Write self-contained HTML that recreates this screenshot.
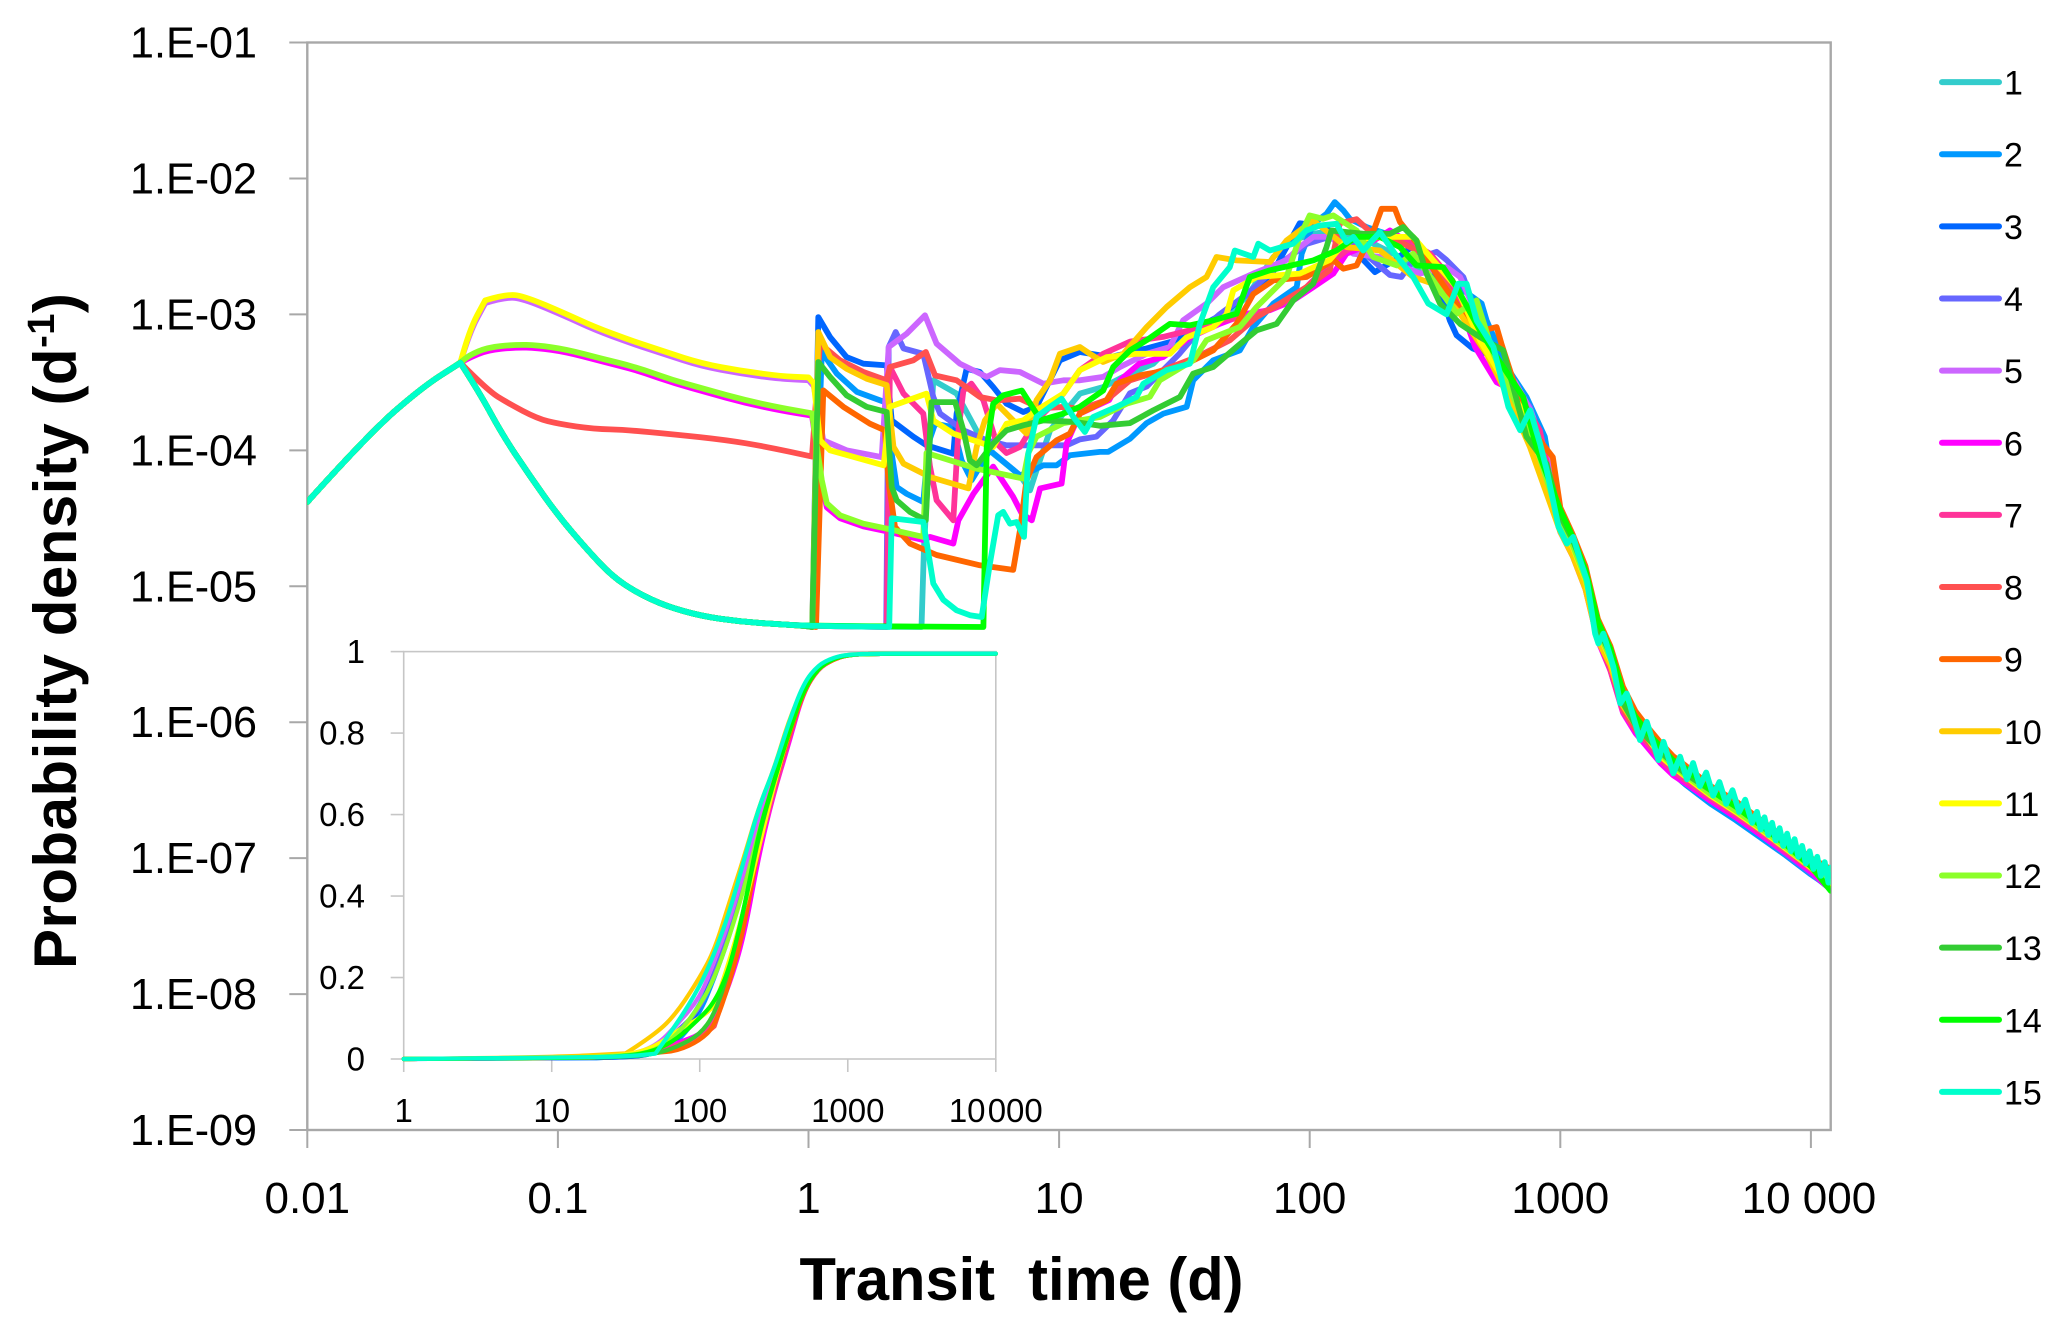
<!DOCTYPE html>
<html lang="en">
<head>
<meta charset="utf-8">
<title>Probability density of transit time</title>
<style>
html,body{margin:0;padding:0;background:#fff;}
svg{display:block;}
text{font-family:"Liberation Sans",sans-serif;fill:#000;}
</style>
</head>
<body>
<svg id="chart" xmlns="http://www.w3.org/2000/svg" width="2068" height="1337" viewBox="0 0 2068 1337">
  <defs><clipPath id="plot-clip"><rect x="307.3" y="42.5" width="1523.4" height="1087.5"/></clipPath></defs>
  <rect x="0" y="0" width="2068" height="1337" fill="#fff"/>
  <g id="main-axes"></g>
  <g id="main-series" clip-path="url(#plot-clip)"></g>
  <g id="inset-axes"></g>
  <g id="inset-series"></g>
  <g id="legend"></g>
  <text x="799.5" y="1300" font-size="60" font-weight="700" textLength="444" lengthAdjust="spacingAndGlyphs" style="white-space:pre">Transit  time (d)</text>
  <text transform="translate(76 969) rotate(-90)" x="0" y="0" font-size="60" font-weight="700" letter-spacing="0.5">Probability density (d<tspan font-size="38" dy="-22">-1</tspan><tspan dy="22">)</tspan></text>
</svg>
<script>
// Main chart values are log10(transit time, d) and log10(probability density, 1/d).
const xTickValues = [-2,-1,0,1,2,3,4];
const xTickLabels = ["0.01","0.1","1","10","100","1000","10 000"];
const yTickValues = [-1,-2,-3,-4,-5,-6,-7,-8,-9];
const yTickLabels = ["1.E-01","1.E-02","1.E-03","1.E-04","1.E-05","1.E-06","1.E-07","1.E-08","1.E-09"];
const legendLabels = ["1","2","3","4","5","6","7","8","9","10","11","12","13","14","15"];
const seriesColors = ["#33CCCC","#0099FF","#0066FF","#6666FF","#CC66FF","#FF00FF","#FF3399","#FF5050","#FF6600","#FFCC00","#FFFF00","#8CFF2A","#33CC33","#00FF00","#00FFCC"];

const riseT = [-2,-1.753,-1.539,-1.389];
const riseP = [-4.38,-3.875,-3.533,-3.356];
const lowT = [-1.311,-1.225,-1.111,-0.997,-0.883,-0.784,-0.684,-0.57,-0.427,-0.271,-0.114,-0.02];
const lowP = [-3.581,-3.875,-4.192,-4.486,-4.731,-4.926,-5.048,-5.146,-5.22,-5.261,-5.28,-5.29];
const tailT = [3,3.05,3.1,3.15,3.2,3.25,3.3,3.35,3.4,3.45,3.5,3.6,3.7,3.8,3.9,4,4.079];

const s1T = [0.451,0.461,0.498,0.591,0.684,0.737,0.844,0.884,0.91,0.964,1.017,1.083,1.176,1.256,1.376,1.455,1.549,1.655,1.748,1.855,1.934,2.014,2.094,2.227,2.36,2.48,2.586,2.679,2.759,2.84,2.932];
const s1P = [-5.3,-4.71,-3.485,-3.583,-3.9,-4.024,-4.184,-4.294,-4.147,-3.853,-3.73,-3.583,-3.534,-3.46,-3.363,-3.216,-3.118,-3.02,-2.873,-2.578,-2.456,-2.407,-2.383,-2.456,-2.578,-2.7,-2.873,-3.167,-3.41,-3.68,-4.05];
const s1Tail = [-4.52,-4.7,-4.94,-5.33,-5.55,-5.84,-6,-6.12,-6.24,-6.33,-6.4,-6.54,-6.65,-6.78,-6.92,-7.06,-7.2];

const s2T = [0.015,0.053,0.113,0.193,0.305,0.332,0.352,0.392,0.458,0.478,0.505,0.578,0.611,0.651,0.724,0.844,0.897,0.937,0.99,1.043,1.163,1.196,1.283,1.349,1.416,1.509,1.535,1.615,1.721,1.775,1.855,1.948,1.968,2.014,2.067,2.1,2.134,2.16,2.227,2.347,2.413,2.48,2.546,2.613,2.686,2.706,2.786,2.865,2.938];
const s2P = [-5.3,-3.277,-3.436,-3.57,-3.645,-4.024,-4.27,-4.32,-4.38,-3.95,-3.804,-3.83,-4.074,-4.22,-4,-4.184,-4.147,-4.11,-4.11,-4.037,-4.012,-4.012,-3.915,-3.8,-3.73,-3.68,-3.485,-3.338,-3.265,-3.093,-2.92,-2.8,-2.554,-2.334,-2.26,-2.174,-2.235,-2.297,-2.358,-2.432,-2.432,-2.578,-2.75,-2.824,-2.92,-3.044,-3.387,-3.608,-3.9];
const s2Tail = [-4.58,-4.75,-5,-5.38,-5.6,-5.9,-6.05,-6.17,-6.3,-6.38,-6.46,-6.6,-6.72,-6.85,-6.98,-7.12,-7.22];

const s3T = [0.015,0.039,0.086,0.152,0.219,0.312,0.332,0.418,0.471,0.578,0.591,0.631,0.684,0.737,0.79,0.857,0.91,1.003,1.083,1.163,1.216,1.283,1.349,1.45,1.55,1.65,1.75,1.85,1.96,2.05,2.14,2.214,2.26,2.34,2.41,2.5,2.559,2.586,2.65,2.72,2.8,2.87,2.94];
const s3P = [-5.3,-3.02,-3.167,-3.314,-3.363,-3.375,-3.78,-3.9,-3.963,-4.025,-3.73,-3.4,-3.424,-3.534,-3.657,-3.718,-3.68,-3.338,-3.277,-3.3,-3.31,-3.28,-3.25,-3.2,-3.1,-3,-2.85,-2.7,-2.33,-2.35,-2.45,-2.6,-2.689,-2.6,-2.5,-2.7,-3.044,-3.154,-3.25,-3.3,-3.52,-3.72,-4];
const s3Tail = [-4.55,-4.72,-4.96,-5.35,-5.57,-5.87,-6.03,-6.15,-6.27,-6.36,-6.43,-6.57,-6.69,-6.82,-6.96,-7.1,-7.21];

const s4T = [0.31,0.32,0.348,0.379,0.458,0.498,0.525,0.618,0.711,0.79,0.924,1.03,1.083,1.149,1.216,1.283,1.35,1.48,1.535,1.64,1.75,1.88,1.99,2.08,2.147,2.25,2.32,2.366,2.413,2.506,2.546,2.613,2.666,2.746,2.812,2.879,2.945];
const s4P = [-5.3,-3.24,-3.13,-3.25,-3.29,-3.608,-3.73,-3.853,-3.926,-3.963,-3.963,-3.963,-3.92,-3.9,-3.78,-3.58,-3.53,-3.29,-3.17,-3,-2.85,-2.63,-2.48,-2.43,-2.456,-2.6,-2.71,-2.725,-2.6,-2.54,-2.6,-2.725,-3,-3.387,-3.534,-3.68,-4.098];
const s4Tail = [-4.6,-4.76,-5,-5.4,-5.6,-5.88,-6.04,-6.14,-6.26,-6.35,-6.42,-6.56,-6.68,-6.83,-6.97,-7.11,-7.23];

const s5T = [-1.354,-1.29,-1.204,-1.126,-0.969,-0.855,-0.712,-0.57,-0.427,-0.271,-0.114,0,0.021,0.059,0.152,0.292,0.32,0.392,0.465,0.511,0.604,0.711,0.764,0.844,0.937,1.017,1.083,1.176,1.243,1.349,1.442,1.495,1.589,1.655,1.775,1.908,1.96,2.014,2.08,2.174,2.28,2.44,2.546,2.6,2.666,2.75,2.82,2.88,2.95];
const s5P = [-3.137,-2.917,-2.868,-2.892,-3.015,-3.112,-3.21,-3.296,-3.381,-3.435,-3.474,-3.484,-3.528,-3.926,-4,-4.05,-3.24,-3.142,-3.007,-3.216,-3.363,-3.46,-3.41,-3.424,-3.51,-3.485,-3.485,-3.46,-3.387,-3.29,-3.24,-3.044,-2.92,-2.8,-2.7,-2.6,-2.505,-2.43,-2.43,-2.554,-2.578,-2.7,-2.652,-2.725,-3,-3.36,-3.5,-3.7,-4.05];
const s5Tail = [-4.57,-4.73,-4.98,-5.37,-5.58,-5.86,-6.02,-6.13,-6.25,-6.34,-6.41,-6.55,-6.67,-6.81,-6.95,-7.09,-7.22];

const s6T = [-1.354,-1.282,-1.168,-1.083,-0.969,-0.826,-0.684,-0.541,-0.399,-0.256,-0.114,0.014,0.053,0.073,0.126,0.219,0.312,0.458,0.485,0.578,0.598,0.658,0.737,0.817,0.851,0.891,0.924,1.01,1.03,1.083,1.2,1.243,1.32,1.415,1.522,1.64,1.748,1.84,1.934,2.014,2.094,2.147,2.214,2.32,2.466,2.546,2.613,2.66,2.746,2.825,2.891,2.945];
const s6P = [-3.32,-3.264,-3.242,-3.247,-3.276,-3.345,-3.411,-3.504,-3.577,-3.65,-3.706,-3.745,-4.25,-4.42,-4.5,-4.56,-4.596,-4.66,-4.637,-4.686,-4.515,-4.32,-4.12,-4.343,-4.466,-4.515,-4.28,-4.245,-3.95,-3.73,-3.63,-3.485,-3.363,-3.314,-3.17,-3.07,-2.995,-2.97,-2.897,-2.8,-2.7,-2.554,-2.505,-2.383,-2.554,-2.75,-2.995,-3.24,-3.5,-3.57,-3.78,-4.098];
const s6Tail = [-4.6,-4.78,-5.02,-5.4,-5.62,-5.93,-6.08,-6.19,-6.3,-6.39,-6.45,-6.58,-6.7,-6.83,-6.96,-7.1,-7.23];

const s7T = [0.312,0.325,0.379,0.458,0.485,0.511,0.578,0.598,0.618,0.65,0.698,0.751,0.79,0.844,0.91,1.017,1.083,1.176,1.283,1.415,1.522,1.64,1.748,1.868,1.987,2.08,2.147,2.28,2.413,2.48,2.57,2.666,2.746,2.825,2.918];
const s7P = [-5.3,-3.387,-3.583,-3.73,-4.12,-4.368,-4.515,-3.853,-3.56,-3.51,-3.632,-3.95,-4.02,-3.975,-3.78,-3.583,-3.41,-3.29,-3.2,-3.166,-3.117,-3.044,-3.02,-2.946,-2.8,-2.628,-2.53,-2.43,-2.48,-2.554,-2.75,-3.19,-3.387,-3.56,-3.853];
const s7Tail = [-4.56,-4.74,-5,-5.38,-5.62,-5.92,-6.06,-6.16,-6.28,-6.36,-6.43,-6.56,-6.68,-6.81,-6.95,-7.08,-7.2];

const s8T = [-1.282,-1.197,-1.083,-0.997,-0.855,-0.727,-0.541,-0.328,-0.171,0.014,0.046,0.126,0.219,0.312,0.325,0.418,0.468,0.505,0.591,0.684,0.751,0.844,0.924,1.03,1.083,1.19,1.283,1.415,1.549,1.682,1.788,1.881,1.987,2.08,2.12,2.187,2.25,2.347,2.453,2.546,2.64,2.733,2.8,2.905];
const s8P = [-3.557,-3.655,-3.765,-3.806,-3.843,-3.85,-3.882,-3.924,-3.973,-4.046,-3.215,-3.338,-3.424,-3.485,-3.387,-3.338,-3.277,-3.45,-3.485,-3.608,-3.632,-3.62,-3.69,-3.68,-3.7,-3.63,-3.485,-3.41,-3.314,-3.19,-3.02,-2.92,-2.8,-2.676,-2.33,-2.3,-2.407,-2.456,-2.554,-2.775,-3.118,-3.338,-3.46,-3.853];
const s8Tail = [-4.5,-4.72,-4.96,-5.34,-5.56,-5.9,-6.05,-6.14,-6.24,-6.32,-6.4,-6.53,-6.64,-6.78,-6.91,-7.05,-7.18];

const s9T = [0.03,0.059,0.139,0.245,0.305,0.319,0.345,0.405,0.511,0.684,0.817,0.844,0.87,0.91,0.99,1.043,1.083,1.19,1.229,1.322,1.469,1.615,1.708,1.775,1.855,1.987,2.094,2.134,2.187,2.26,2.287,2.34,2.36,2.44,2.52,2.613,2.692,2.746,2.765,2.812,2.865,2.97];
const s9P = [-5.3,-3.559,-3.68,-3.804,-3.853,-4.22,-4.564,-4.686,-4.77,-4.846,-4.88,-4.588,-4.22,-4.05,-3.926,-3.877,-3.73,-3.63,-3.51,-3.448,-3.4,-3.265,-3.07,-2.85,-2.75,-2.725,-2.6,-2.664,-2.64,-2.358,-2.223,-2.223,-2.32,-2.505,-2.75,-2.995,-3.118,-3.093,-3.215,-3.485,-3.8,-4.05];
const s9Tail = [-4.42,-4.62,-4.85,-5.24,-5.44,-5.74,-5.92,-6.04,-6.15,-6.25,-6.32,-6.47,-6.58,-6.72,-6.86,-7,-7.08];

const s10T = [0.015,0.039,0.086,0.152,0.232,0.312,0.339,0.379,0.485,0.638,0.671,0.704,0.751,0.817,0.87,0.91,0.964,1.003,1.083,1.123,1.176,1.256,1.349,1.429,1.522,1.588,1.628,1.708,1.841,1.908,2.014,2.147,2.28,2.413,2.493,2.6,2.706,2.786,2.879];
const s10P = [-5.3,-3.13,-3.314,-3.4,-3.473,-3.52,-3.975,-4.098,-4.196,-4.28,-3.975,-3.78,-3.657,-3.78,-3.877,-3.632,-3.485,-3.29,-3.24,-3.29,-3.35,-3.29,-3.094,-2.946,-2.8,-2.725,-2.578,-2.603,-2.615,-2.456,-2.309,-2.505,-2.53,-2.725,-2.775,-2.995,-3.29,-3.583,-3.976];
const s10Tail = [-4.6,-4.78,-5.02,-5.4,-5.58,-5.88,-6.02,-6.12,-6.24,-6.33,-6.4,-6.54,-6.65,-6.79,-6.92,-7.07,-7.19];

const s11T = [-1.354,-1.29,-1.204,-1.126,-0.969,-0.855,-0.712,-0.57,-0.427,-0.271,-0.114,0,0.021,0.046,0.086,0.3,0.325,0.471,0.498,0.578,0.737,0.79,0.857,0.91,1.017,1.083,1.19,1.309,1.442,1.508,1.615,1.668,1.695,1.788,1.96,2.08,2.147,2.28,2.413,2.493,2.586,2.679,2.759,2.84,2.918];
const s11P = [-3.117,-2.897,-2.848,-2.872,-2.995,-3.092,-3.19,-3.276,-3.361,-3.415,-3.454,-3.464,-3.508,-3.926,-4,-4.11,-3.68,-3.583,-3.78,-3.877,-3.975,-3.804,-3.78,-3.706,-3.583,-3.41,-3.314,-3.29,-3.29,-3.17,-3.093,-3,-2.824,-2.725,-2.7,-2.6,-2.456,-2.43,-2.43,-2.603,-2.8,-3.19,-3.436,-3.68,-4.02];
const s11Tail = [-4.54,-4.71,-4.95,-5.33,-5.54,-5.85,-6.01,-6.12,-6.25,-6.33,-6.4,-6.54,-6.66,-6.79,-6.93,-7.07,-7.2];

const s12T = [-1.354,-1.282,-1.168,-1.083,-0.969,-0.826,-0.684,-0.541,-0.399,-0.256,-0.114,0.014,0.053,0.073,0.126,0.219,0.312,0.458,0.471,0.671,0.857,0.877,0.91,1.017,1.083,1.163,1.27,1.362,1.402,1.535,1.588,1.721,1.788,1.908,1.96,2,2.054,2.094,2.187,2.253,2.347,2.413,2.493,2.586,2.666,2.733,2.812,2.905];
const s12P = [-3.3,-3.244,-3.222,-3.227,-3.256,-3.325,-3.391,-3.484,-3.557,-3.63,-3.686,-3.728,-4.22,-4.39,-4.478,-4.54,-4.576,-4.637,-4.02,-4.135,-4.208,-4.02,-3.9,-3.8,-3.78,-3.755,-3.656,-3.607,-3.485,-3.338,-3.19,-3.093,-2.946,-2.725,-2.43,-2.272,-2.297,-2.272,-2.383,-2.578,-2.64,-2.554,-2.75,-2.995,-2.897,-3.29,-3.608,-3.976];
const s12Tail = [-4.53,-4.7,-4.94,-5.32,-5.53,-5.84,-6,-6.11,-6.23,-6.32,-6.39,-6.53,-6.65,-6.78,-6.92,-7.06,-7.18];

const s13T = [0.015,0.039,0.086,0.152,0.232,0.312,0.332,0.352,0.405,0.468,0.491,0.585,0.618,0.644,0.671,0.737,0.79,0.857,0.937,1.057,1.163,1.283,1.376,1.482,1.535,1.615,1.708,1.788,1.868,1.934,2.014,2.067,2.087,2.214,2.32,2.373,2.426,2.466,2.52,2.6,2.679,2.772,2.812,2.865,2.945];
const s13P = [-5.3,-3.35,-3.46,-3.595,-3.68,-3.718,-4.27,-4.368,-4.453,-4.515,-3.645,-3.645,-3.853,-4.074,-4.11,-3.95,-3.853,-3.816,-3.78,-3.79,-3.82,-3.8,-3.706,-3.608,-3.436,-3.387,-3.24,-3.118,-3.07,-2.897,-2.775,-2.505,-2.383,-2.407,-2.407,-2.358,-2.456,-2.7,-2.92,-3.07,-3.167,-3.265,-3.534,-3.9,-4.1];
const s13Tail = [-4.48,-4.66,-4.9,-5.3,-5.5,-5.86,-6.02,-6.12,-6.22,-6.3,-6.38,-6.5,-6.62,-6.76,-6.88,-7.02,-7.13];

const s14T = [0.698,0.711,0.737,0.777,0.851,0.91,0.924,1.017,1.083,1.176,1.216,1.283,1.349,1.442,1.522,1.615,1.708,1.761,1.841,2.014,2.107,2.187,2.28,2.36,2.426,2.532,2.586,2.679,2.772,2.852,2.905];
const s14P = [-5.3,-3.975,-3.657,-3.595,-3.56,-3.73,-3.78,-3.73,-3.68,-3.56,-3.387,-3.265,-3.19,-3.07,-3.08,-3.044,-2.995,-2.725,-2.676,-2.603,-2.53,-2.43,-2.43,-2.505,-2.64,-2.652,-2.8,-3.118,-3.387,-3.608,-3.976];
const s14Tail = [-4.44,-4.64,-4.88,-5.26,-5.46,-5.78,-5.96,-6.08,-6.18,-6.28,-6.34,-6.5,-6.62,-6.76,-6.9,-7.06,-7.24];

const s15T = [0.322,0.332,0.458,0.498,0.538,0.591,0.644,0.691,0.724,0.757,0.777,0.804,0.83,0.86,0.877,0.91,0.964,1.01,1.057,1.103,1.136,1.229,1.309,1.336,1.429,1.522,1.562,1.615,1.681,1.701,1.775,1.795,1.841,1.934,1.987,2.04,2.107,2.147,2.174,2.214,2.28,2.34,2.413,2.473,2.546,2.592,2.626,2.666,2.733,2.793,2.84,2.88,2.919,2.946,2.993,3.026,3.052,3.079,3.106,3.139,3.152,3.172,3.212,3.239,3.265,3.318,3.345,3.392,3.412,3.451,3.478,3.505,3.53,3.557,3.582,3.61,3.635,3.662,3.687,3.714,3.738,3.765,3.785,3.8,3.815,3.83,3.845,3.86,3.875,3.89,3.905,3.92,3.935,3.95,3.965,3.98,3.995,4.01,4.025,4.04,4.055,4.07,4.079];
const s15P = [-5.3,-4.5,-4.527,-4.98,-5.1,-5.177,-5.213,-5.226,-4.833,-4.478,-4.453,-4.54,-4.527,-4.637,-4.024,-3.755,-3.68,-3.62,-3.755,-3.865,-3.755,-3.68,-3.608,-3.51,-3.41,-3.363,-3.07,-2.8,-2.652,-2.53,-2.578,-2.48,-2.53,-2.48,-2.383,-2.346,-2.334,-2.468,-2.43,-2.53,-2.395,-2.554,-2.725,-2.92,-3,-2.775,-2.775,-3.044,-3.24,-3.681,-3.853,-3.706,-3.95,-4.147,-4.563,-4.686,-4.637,-4.808,-4.956,-5.348,-5.421,-5.348,-5.593,-5.862,-5.789,-6.132,-5.997,-6.279,-6.144,-6.377,-6.254,-6.42,-6.3,-6.47,-6.37,-6.54,-6.44,-6.6,-6.5,-6.66,-6.57,-6.74,-6.66,-6.79,-6.7,-6.83,-6.74,-6.87,-6.78,-6.91,-6.82,-6.95,-6.86,-6.99,-6.91,-7.04,-6.95,-7.08,-6.99,-7.13,-7.03,-7.18,-7.07];

// Inset: cumulative probability against log10(transit time, d).
const insetXTicks = [0,1,2,3,4];
const insetXLabels = ["1","10","100","1000","10 000"];
const insetYTicks = [0,0.2,0.4,0.6,0.8,1];
const insetYLabels = ["0","0.2","0.4","0.6","0.8","1"];
const cdfT = [0,1,1.5,1.7,1.85,2,2.1,2.2,2.3,2.4,2.5,2.6,2.7,2.8,2.9,3,3.2,4];
const cdf1 = [0,0.002,0.006,0.02,0.06,0.13,0.22,0.33,0.46,0.6,0.7,0.81,0.91,0.96,0.983,0.992,0.995,0.995];
const cdf2 = [0,0.001,0.003,0.012,0.04,0.11,0.2,0.3,0.43,0.58,0.69,0.8,0.9,0.96,0.982,0.992,0.995,0.995];
const cdf3 = [0,0.001,0.003,0.012,0.045,0.12,0.22,0.33,0.46,0.59,0.7,0.81,0.91,0.96,0.982,0.992,0.995,0.995];
const cdf4 = [0,0.002,0.005,0.02,0.07,0.12,0.21,0.31,0.44,0.58,0.69,0.8,0.9,0.96,0.982,0.992,0.995,0.995];
const cdf5 = [0,0.003,0.008,0.03,0.085,0.15,0.24,0.34,0.46,0.59,0.7,0.81,0.905,0.96,0.983,0.992,0.995,0.995];
const cdf6 = [0,0.002,0.006,0.02,0.04,0.06,0.095,0.18,0.3,0.5,0.65,0.77,0.9,0.958,0.98,0.992,0.995,0.995];
const cdf7 = [0,0.002,0.006,0.018,0.035,0.055,0.09,0.19,0.33,0.52,0.65,0.78,0.9,0.958,0.98,0.992,0.995,0.995];
const cdf8 = [0,0.002,0.005,0.015,0.025,0.05,0.08,0.19,0.34,0.54,0.67,0.79,0.9,0.959,0.98,0.992,0.995,0.995];
const cdf9 = [0,0.002,0.005,0.015,0.02,0.045,0.08,0.185,0.32,0.53,0.67,0.79,0.9,0.959,0.98,0.992,0.995,0.995];
const cdf10 = [0,0.004,0.014,0.06,0.115,0.2,0.268,0.385,0.497,0.62,0.71,0.83,0.914,0.963,0.984,0.993,0.995,0.995];
const cdf11 = [0,0.003,0.008,0.03,0.07,0.1,0.13,0.24,0.37,0.52,0.67,0.8,0.905,0.96,0.982,0.992,0.995,0.995];
const cdf12 = [0,0.003,0.008,0.02,0.06,0.13,0.2,0.3,0.42,0.56,0.68,0.8,0.905,0.96,0.982,0.992,0.995,0.995];
const cdf13 = [0,0.002,0.005,0.012,0.03,0.06,0.11,0.22,0.37,0.55,0.68,0.8,0.905,0.96,0.982,0.992,0.995,0.995];
const cdf14 = [0,0.002,0.006,0.02,0.05,0.1,0.14,0.22,0.37,0.56,0.68,0.8,0.905,0.96,0.982,0.992,0.995,0.995];
const cdf15 = [0,0.003,0.006,0.013,0.088,0.178,0.26,0.36,0.49,0.62,0.71,0.824,0.922,0.967,0.985,0.993,0.995,0.995];

const mainSeries = [
  {T: riseT.concat(lowT, s1T, tailT), P: riseP.concat(lowP, s1P, s1Tail)},
  {T: riseT.concat(lowT, s2T, tailT), P: riseP.concat(lowP, s2P, s2Tail)},
  {T: riseT.concat(lowT, s3T, tailT), P: riseP.concat(lowP, s3P, s3Tail)},
  {T: riseT.concat(lowT, s4T, tailT), P: riseP.concat(lowP, s4P, s4Tail)},
  {T: riseT.concat(s5T, tailT), P: riseP.concat(s5P, s5Tail)},
  {T: riseT.concat(s6T, tailT), P: riseP.concat(s6P, s6Tail)},
  {T: riseT.concat(lowT, s7T, tailT), P: riseP.concat(lowP, s7P, s7Tail)},
  {T: riseT.concat(s8T, tailT), P: riseP.concat(s8P, s8Tail)},
  {T: riseT.concat(lowT, s9T, tailT), P: riseP.concat(lowP, s9P, s9Tail)},
  {T: riseT.concat(lowT, s10T, tailT), P: riseP.concat(lowP, s10P, s10Tail)},
  {T: riseT.concat(s11T, tailT), P: riseP.concat(s11P, s11Tail)},
  {T: riseT.concat(s12T, tailT), P: riseP.concat(s12P, s12Tail)},
  {T: riseT.concat(lowT, s13T, tailT), P: riseP.concat(lowP, s13P, s13Tail)},
  {T: riseT.concat(lowT, s14T, tailT), P: riseP.concat(lowP, s14P, s14Tail)},
  {T: riseT.concat(lowT, s15T), P: riseP.concat(lowP, s15P)}
];
const insetSeries = [cdf1,cdf2,cdf3,cdf4,cdf5,cdf6,cdf7,cdf8,cdf9,cdf10,cdf11,cdf12,cdf13,cdf14,cdf15];

const NS = "http://www.w3.org/2000/svg";
const AXIS_GRAY = "#a8a8a8";
const INSET_GRAY = "#c6c6c6";
function scale(d0, d1, r0, r1) { return function (v) { return r0 + (v - d0) / (d1 - d0) * (r1 - r0); }; }
const xMain = scale(-2, 4.079, 307.3, 1830.7);
const yMain = scale(-1, -9, 42.5, 1130);
const xInset = scale(0, 4, 403.7, 995.8);
const yInset = scale(0, 1, 1059, 651.6);

function make(parent, tag, attrs, text) {
  const el = document.createElementNS(NS, tag);
  for (const k in attrs) el.setAttribute(k, attrs[k]);
  if (text !== undefined) el.textContent = text;
  parent.appendChild(el);
  return el;
}
// Straight joins, except that gentle bends are rounded off to soften the polyline.
function linePath(xs, ys, fx, fy, smoothBelow) {
  const pts = xs.map(function (v, i) { return [fx(v), fy(ys[i])]; });
  let d = "M" + pts[0][0].toFixed(1) + " " + pts[0][1].toFixed(1);
  for (let i = 1; i < pts.length; i++) {
    const p = pts[i], a = pts[i - 1], b = pts[i + 1];
    let gentle = false;
    if (b && xs[i] < smoothBelow) {
      const t1 = Math.atan2(p[1] - a[1], p[0] - a[0]);
      const t2 = Math.atan2(b[1] - p[1], b[0] - p[0]);
      gentle = Math.abs(t2 - t1) < 0.5;
    }
    if (gentle) {
      d += "Q" + p[0].toFixed(1) + " " + p[1].toFixed(1) + " " + ((p[0] + b[0]) / 2).toFixed(1) + " " + ((p[1] + b[1]) / 2).toFixed(1);
    } else {
      d += "L" + p[0].toFixed(1) + " " + p[1].toFixed(1);
    }
  }
  return d;
}

const mainAxes = document.getElementById("main-axes");
let el;
el = make(mainAxes, "rect", {x: xMain(-2), y: yMain(-1), width: xMain(4.079) - xMain(-2), height: yMain(-9) - yMain(-1), fill: "none", stroke: AXIS_GRAY, "stroke-width": 2.4});


yTickValues.forEach(function (v, i) {
  const t = make(mainAxes, "line", {x1: xMain(-2) - 18, x2: xMain(-2), y1: yMain(v), y2: yMain(v), stroke: AXIS_GRAY, "stroke-width": 2});
  
  
  const l = make(mainAxes, "text", {x: 257, y: yMain(v) + 15, "font-size": 44, "text-anchor": "end", textLength: 127, lengthAdjust: "spacingAndGlyphs"}, yTickLabels[i]);
  
  
});
xTickValues.forEach(function (v, i) {
  const t = make(mainAxes, "line", {x1: xMain(v), x2: xMain(v), y1: yMain(-9), y2: yMain(-9) + 18, stroke: AXIS_GRAY, "stroke-width": 2});
  
  
  const l = make(mainAxes, "text", {x: xMain(v) - (v === 4 ? 2 : 0), y: 1213, "font-size": 44, "text-anchor": "middle"}, xTickLabels[i]);
  
  
});

const mainGroup = document.getElementById("main-series");
mainSeries.forEach(function (s, i) {
  const p = make(mainGroup, "path", {d: linePath(s.T, s.P, xMain, yMain, 0), fill: "none", stroke: seriesColors[i], "stroke-width": 5.8, "stroke-linejoin": "round", "stroke-linecap": "round"});
  
  
});

const insetAxes = document.getElementById("inset-axes");
el = make(insetAxes, "rect", {x: xInset(0), y: yInset(1), width: xInset(4) - xInset(0), height: yInset(0) - yInset(1), fill: "none", stroke: INSET_GRAY, "stroke-width": 1.6});


insetYTicks.forEach(function (v, i) {
  const t = make(insetAxes, "line", {x1: xInset(0) - 13, x2: xInset(0), y1: yInset(v), y2: yInset(v), stroke: INSET_GRAY, "stroke-width": 1.6});
  
  
  const l = make(insetAxes, "text", {x: 365, y: yInset(v) + 11.5, "font-size": 33, "text-anchor": "end"}, insetYLabels[i]);
  
  
});
insetXTicks.forEach(function (v, i) {
  const t = make(insetAxes, "line", {x1: xInset(v), x2: xInset(v), y1: yInset(0), y2: yInset(0) + 13, stroke: INSET_GRAY, "stroke-width": 1.6});
  
  
  const l = make(insetAxes, "text", {x: xInset(v), y: 1122, "font-size": 33, "text-anchor": "middle", "word-spacing": v === 4 ? "-7" : "0"}, insetXLabels[i]);
  
  
});

const insetGroup = document.getElementById("inset-series");
insetSeries.forEach(function (vals, i) {
  const p = make(insetGroup, "path", {d: linePath(cdfT, vals, xInset, yInset, 9), fill: "none", stroke: seriesColors[i], "stroke-width": 4.2, "stroke-linejoin": "round", "stroke-linecap": "round"});
  
  
});

const legendGroup = document.getElementById("legend");
legendLabels.forEach(function (lab, i) {
  const y = 82.1 + 72.13 * i;
  const sw = make(legendGroup, "line", {x1: 1942, x2: 1999, y1: y, y2: y, stroke: seriesColors[i], "stroke-width": 6, "stroke-linecap": "round"});
  
  
  const l = make(legendGroup, "text", {x: 2004, y: y + 12.5, "font-size": 34}, lab);
  
  
});
</script>
</body>
</html>
